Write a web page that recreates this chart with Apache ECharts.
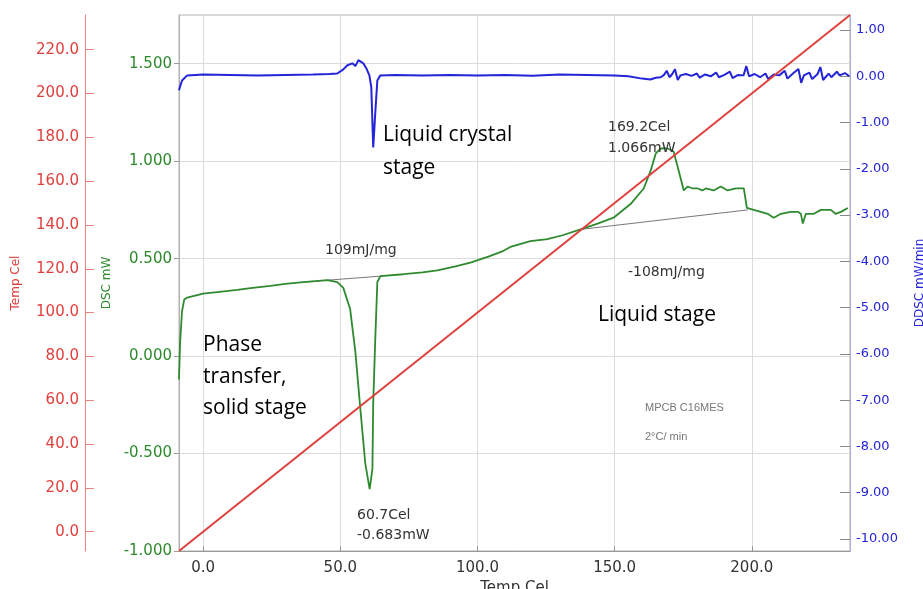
<!DOCTYPE html>
<html>
<head>
<meta charset="utf-8">
<script src="https://cdn.jsdelivr.net/npm/echarts@6.0.0/dist/echarts.min.js"></script>
<style>
  html, body { margin: 0; padding: 0; background: #fff; }
  #chart { width: 923px; height: 589px; }
</style>
</head>
<body>
<div id="chart"></div>
<script>
// ---- data (temperature in Cel, DSC in mW, DDSC in mW/min) ----
const tempTicks = [0, 50, 100, 150, 200];
const redTicks = [0, 20, 40, 60, 80, 100, 120, 140, 160, 180, 200, 220];
const dscTicks = [-1.0, -0.5, 0.0, 0.5, 1.0, 1.5];
const ddscTicks = [-10, -9, -8, -7, -6, -5, -4, -3, -2, -1, 0, 1];

// programme temperature vs sample temperature
const tempLine = [[-8.8, -8.8], [235.8, 235.8]];

const dscPoints = [
  [-8.8, -0.12], [-8.4, 0.07], [-7.7, 0.23], [-6.9, 0.29], [-5.8, 0.30],
  [0, 0.32], [6, 0.33], [12.4, 0.34], [18, 0.35], [24.5, 0.36], [30, 0.37],
  [36.5, 0.38], [41, 0.385], [45.3, 0.39], [48.9, 0.38], [51.1, 0.35],
  [53.6, 0.24], [55.5, 0.02], [57.3, -0.27], [59.1, -0.55], [60.7, -0.683],
  [61.7, -0.58], [62.0, -0.24], [62.8, 0.11], [63.5, 0.38], [64.6, 0.41],
  [73.0, 0.42], [80, 0.43], [85.4, 0.44], [92, 0.46], [97.4, 0.48],
  [104, 0.51], [109.5, 0.54], [112.0, 0.56], [119.3, 0.59], [125.5, 0.60],
  [131, 0.62], [137.6, 0.65], [143.8, 0.68], [149.6, 0.71], [155.8, 0.78],
  [160.6, 0.86], [163.1, 0.95], [165, 1.04], [166.8, 1.065], [169.2, 1.066],
  [171.5, 1.05], [173, 0.97], [175.2, 0.85], [176.6, 0.87], [178.5, 0.86],
  [180.3, 0.86], [182, 0.85], [183.2, 0.86], [186.1, 0.85], [188.7, 0.87],
  [191.2, 0.85], [194.2, 0.86], [197.1, 0.86], [198.2, 0.76], [200.7, 0.75],
  [203.3, 0.74], [205.8, 0.73], [208.0, 0.71], [210.6, 0.73], [214.2, 0.74],
  [216.8, 0.74], [217.9, 0.73], [218.6, 0.68], [219.7, 0.73], [222.6, 0.73],
  [225.2, 0.75], [228.8, 0.75], [230.5, 0.73], [232.5, 0.74], [235.0, 0.76]
];

const baseline1 = [[36.5, 0.38], [64.6, 0.41]];
const baseline2 = [[137.6, 0.65], [198.5, 0.75]];

const ddscPoints = [
  [-8.8, -0.30], [-8.4, -0.22], [-7.7, -0.09], [-5.8, 0.02], [0, 0.04],
  [10, 0.03], [20, 0.02], [30, 0.03], [40, 0.04], [46, 0.05], [48.9, 0.06],
  [51.1, 0.15], [52.6, 0.24], [54.4, 0.28], [55.5, 0.22], [56.6, 0.35],
  [57.3, 0.39], [58.4, 0.28], [59.5, 0.17], [60.6, 0.02], [61.3, -0.24],
  [62.0, -1.54], [62.8, -0.74], [63.5, -0.09], [64.6, 0.02],
  [70, 0.03], [80, 0.02], [90, 0.03], [100, 0.02], [110, 0.03], [120, 0.01],
  [130, 0.04], [140, 0.03], [150, 0.02], [155, 0.0], [160, -0.05],
  [163, -0.07], [165, -0.03], [166.8, -0.02], [168, 0.03], [169, 0.12],
  [170, -0.02], [171, 0.05], [172, 0.15], [173, -0.08], [174, 0.02],
  [176, 0.05], [178, 0.01], [180, 0.06], [181, -0.03], [183, 0.04], [185, 0.0],
  [187, 0.08], [188, -0.02], [190, 0.03], [192, 0.1], [193, -0.04], [195, 0.03],
  [197, 0.02], [198, 0.22], [199, 0.0], [201, 0.05], [203, -0.02], [205, 0.06],
  [206, -0.06], [208, 0.04], [210, 0.02], [212, 0.12], [213, -0.05], [215, 0.06],
  [217, 0.16], [218, -0.14], [219, 0.02], [221, 0.08], [222, -0.06], [224, 0.05],
  [225, 0.2], [226, -0.08], [228, 0.06], [229, -0.02], [231, 0.1], [232, 0.02],
  [234, 0.07], [235.5, 0.0]
];

// ---- chart ----
const RED = '#e0403c';
const GREEN = '#2e8a2e';
const BLUE = '#2424d8';
const AXFONT = 'DejaVu Sans';
const NOTE = '14px DejaVu Sans';
const BIG = '21px Open Sans';

const chart = echarts.init(document.getElementById('chart'));

function note(x, y, text, font, fill) {
  return {
    type: 'text', x: x, y: y, z: 100,
    style: { text: text, font: font, fill: fill, verticalAlign: 'middle' }
  };
}

const option = {
  animation: false,
  backgroundColor: '#fff',
  grid: {
    left: 179, right: 73, top: 15, bottom: 38,
    containLabel: false, outerBoundsMode: 'none',
    show: true, borderColor: '#b0b0b0', borderWidth: 1
  },
  xAxis: {
    type: 'value',
    min: -8.8, max: 235.8,
    name: 'Temp Cel', nameLocation: 'middle', nameGap: 24,
    nameTextStyle: { color: '#333', fontFamily: AXFONT, fontSize: 15 },
    axisLine: { onZero: false, lineStyle: { color: '#999' } },
    axisTick: { inside: true, length: 5, customValues: tempTicks, lineStyle: { color: '#999' } },
    axisLabel: {
      customValues: tempTicks, margin: 10,
      color: '#333', fontFamily: AXFONT, fontSize: 15,
      formatter: (v) => v.toFixed(1)
    },
    splitLine: { show: true, lineStyle: { color: '#dcdcdc' } }
  },
  yAxis: [
    {
      type: 'value', position: 'left', offset: 94,
      min: -8.8, max: 235.8,
      name: 'Temp Cel', nameLocation: 'middle', nameGap: 63,
      nameTextStyle: { color: RED, fontFamily: AXFONT, fontSize: 12 },
      axisLine: { show: true, onZero: false, lineStyle: { color: '#ee8080' } },
      axisTick: { inside: true, length: 9, customValues: redTicks, lineStyle: { color: '#ee8080' } },
      axisLabel: {
        customValues: redTicks, margin: 6,
        color: RED, fontFamily: AXFONT, fontSize: 15,
        formatter: (v) => v.toFixed(1)
      },
      splitLine: { show: false }
    },
    {
      type: 'value', position: 'left', offset: 0,
      min: -1.0, max: 1.75,
      name: 'DSC mW', nameLocation: 'middle', nameGap: 59,
      nameTextStyle: { color: GREEN, fontFamily: AXFONT, fontSize: 12 },
      axisLine: { show: true, onZero: false, lineStyle: { color: '#b0b0b0' } },
      axisTick: { inside: false, length: 5, customValues: dscTicks, lineStyle: { color: '#999' } },
      axisLabel: {
        customValues: dscTicks, margin: 7,
        color: GREEN, fontFamily: AXFONT, fontSize: 15,
        formatter: (v) => v.toFixed(3)
      },
      splitLine: { show: true, lineStyle: { color: '#dcdcdc' } }
    },
    {
      type: 'value', position: 'right', offset: 0,
      min: -10.26, max: 1.325,
      name: 'DDSC mW/min', nameLocation: 'middle', nameGap: 64,
      nameTextStyle: { color: BLUE, fontFamily: AXFONT, fontSize: 12 },
      axisLine: { show: true, onZero: false, lineStyle: { color: '#a8a8e8' } },
      axisTick: { inside: true, length: 10, customValues: ddscTicks, lineStyle: { color: '#888' } },
      axisLabel: {
        customValues: ddscTicks, margin: 6,
        color: BLUE, fontFamily: AXFONT, fontSize: 13,
        formatter: (v) => v.toFixed(2)
      },
      splitLine: { show: false }
    }
  ],
  series: [
    {
      name: 'DSC baseline 1', type: 'line', yAxisIndex: 1, data: baseline1,
      showSymbol: false, lineStyle: { color: '#555', width: 0.8 }, z: 2
    },
    {
      name: 'DSC baseline 2', type: 'line', yAxisIndex: 1, data: baseline2,
      showSymbol: false, lineStyle: { color: '#555', width: 0.8 }, z: 2
    },
    {
      name: 'DSC', type: 'line', yAxisIndex: 1, data: dscPoints,
      showSymbol: false, lineStyle: { color: GREEN, width: 1.8 }, z: 3
    },
    {
      name: 'DDSC', type: 'line', yAxisIndex: 2, data: ddscPoints,
      showSymbol: false, lineStyle: { color: BLUE, width: 2 }, z: 3
    },
    {
      name: 'Temp', type: 'line', yAxisIndex: 0, data: tempLine,
      showSymbol: false, lineStyle: { color: RED, width: 2 }, z: 4
    }
  ],
  graphic: [
    note(325, 250, '109mJ/mg', NOTE, '#333'),
    note(357, 515, '60.7Cel', NOTE, '#333'),
    note(357, 535, '-0.683mW', NOTE, '#333'),
    note(608, 127, '169.2Cel', NOTE, '#333'),
    note(608, 148, '1.066mW', NOTE, '#333'),
    note(628, 272, '-108mJ/mg', NOTE, '#333'),
    note(645, 408, 'MPCB C16MES', '11px Liberation Sans', '#777'),
    note(645, 437, '2°C/ min', '11px Liberation Sans', '#777'),
    note(383, 135, 'Liquid crystal', BIG, '#000'),
    note(383, 168, 'stage', BIG, '#000'),
    note(203, 345, 'Phase', BIG, '#000'),
    note(203, 377, 'transfer,', BIG, '#000'),
    note(203, 408, 'solid stage', BIG, '#000'),
    note(598, 315, 'Liquid stage', BIG, '#000')
  ]
};

chart.setOption(option);
</script>
</body>
</html>
